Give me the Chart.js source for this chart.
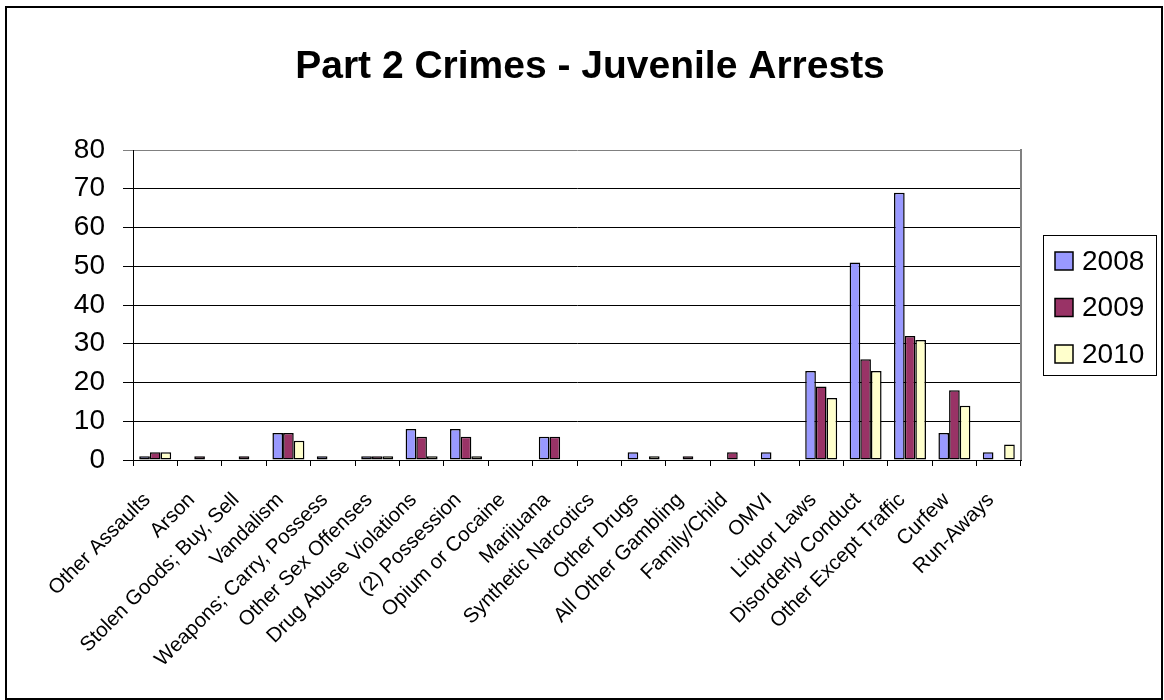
<!DOCTYPE html>
<html>
<head>
<meta charset="utf-8">
<title>Part 2 Crimes - Juvenile Arrests</title>
<script src="https://cdn.jsdelivr.net/npm/chart.js@4.4.1/dist/chart.umd.min.js"></script>
<style>
  body { margin: 0; background: #fff; }
</style>
</head>
<body>
<canvas id="chart" width="1164" height="700"></canvas>
<script>
// chart data
const categories = [
    "Other Assaults", "Arson", "Stolen Goods; Buy, Sell", "Vandalism",
    "Weapons; Carry, Possess", "Other Sex Offenses", "Drug Abuse Violations",
    "(2) Possession", "Opium or Cocaine", "Marijuana", "Synthetic Narcotics",
    "Other Drugs", "All Other Gambling", "Family/Child", "OMVI", "Liquor Laws",
    "Disorderly Conduct", "Other Except Traffic", "Curfew", "Run-Aways"
];
const years = ["2008", "2009", "2010"];
const arrests2008 = [1, 0, 0, 7, 1, 1, 8, 8, 0, 6, 0, 2, 0, 0, 2, 23, 51, 69, 7, 2];
const arrests2009 = [2, 1, 1, 7, 0, 1, 6, 6, 0, 6, 0, 0, 1, 2, 0, 19, 26, 32, 18, 0];
const arrests2010 = [2, 0, 0, 5, 0, 1, 1, 1, 0, 0, 0, 1, 0, 0, 0, 16, 23, 31, 14, 4];
const yMin = 0;
const yMax = 80;
const yStep = 10;

const colors = ["#9999FF", "#993366", "#FFFFCC"];
const FONT = "'Liberation Sans', Arial, sans-serif";

// outer frame + gray right edge of the plot
const framePlugin = {
    id: 'frame',
    beforeDraw(chart) {
        const ctx = chart.ctx;
        ctx.save();
        ctx.fillStyle = '#fff';
        ctx.fillRect(0, 0, chart.width, chart.height);
        ctx.strokeStyle = '#000';
        ctx.lineWidth = 2;
        ctx.strokeRect(6, 7, 1156, 692);
        ctx.restore();
    },
    afterDatasetsDraw(chart) {
        const a = chart.chartArea;
        const ctx = chart.ctx;
        ctx.save();
        ctx.strokeStyle = '#808080';
        ctx.lineWidth = 2;
        ctx.beginPath();
        ctx.moveTo(a.right, a.top - 1);
        ctx.lineTo(a.right, a.bottom);
        ctx.stroke();
        ctx.restore();
    }
};

// boxed legend on the right, like the spreadsheet one
const legendPlugin = {
    id: 'boxLegend',
    afterDraw(chart) {
        const ctx = chart.ctx;
        ctx.save();
        ctx.strokeStyle = '#000';
        ctx.lineWidth = 1;
        ctx.strokeRect(1043.5, 235.5, 113, 140);
        chart.data.datasets.forEach((ds, i) => {
            const y = 261 + i * 46.5;
            ctx.fillStyle = ds.backgroundColor;
            ctx.fillRect(1055, y - 9, 18, 18);
            ctx.strokeStyle = '#000';
            ctx.lineWidth = 1.5;
            ctx.strokeRect(1055, y - 9, 18, 18);
            ctx.fillStyle = '#000';
            ctx.font = '28px ' + FONT;
            ctx.textBaseline = 'middle';
            ctx.textAlign = 'left';
            ctx.fillText(ds.label, 1082, y + 1);
        });
        ctx.restore();
    }
};

function makeSet(label, data, color) {
    return {
        label: label,
        data: data,
        backgroundColor: color,
        borderColor: '#000',
        borderWidth: ctx => (ctx.raw === 0 ? 0 : 1.5),
        borderSkipped: false,
        categoryPercentage: 0.72,
        barPercentage: 1.0
    };
}

const ctx = document.getElementById('chart').getContext('2d');
const myChart = new Chart(ctx, {
    type: 'bar',
    data: {
        labels: categories,
        datasets: [
            makeSet(years[0], arrests2008, colors[0]),
            makeSet(years[1], arrests2009, colors[1]),
            makeSet(years[2], arrests2010, colors[2])
        ]
    },
    plugins: [framePlugin, legendPlugin],
    options: {
        responsive: false,
        animation: false,
        devicePixelRatio: 1,
        layout: {
            padding: { left: 16, right: 0, top: 0, bottom: 0 }
        },
        plugins: {
            legend: { display: false },
            tooltip: { enabled: false },
            title: {
                display: true,
                text: 'Part 2 Crimes - Juvenile Arrests',
                color: '#000',
                font: { family: FONT, size: 39, weight: 'bold', lineHeight: 1.2 },
                padding: { top: 44, bottom: 59.2 }
            }
        },
        scales: {
            x: {
                grid: {
                    display: true,
                    drawOnChartArea: false,
                    drawTicks: true,
                    tickLength: 6,
                    color: '#000',
                    lineWidth: 1
                },
                border: { color: '#000', width: 1 },
                ticks: {
                    autoSkip: false,
                    maxRotation: 45,
                    minRotation: 45,
                    padding: 22,
                    labelOffset: -8,
                    color: '#000',
                    font: { family: FONT, size: 20.5 }
                },
                afterFit(scale) {
                    scale.height = 240;
                }
            },
            y: {
                min: yMin,
                max: yMax,
                grid: {
                    color: c => (c.tick && c.tick.value === yMax ? '#808080' : '#000'),
                    lineWidth: 1,
                    tickLength: 10
                },
                border: { color: '#000', width: 1 },
                ticks: {
                    stepSize: yStep,
                    padding: 18,
                    color: '#000',
                    font: { family: FONT, size: 28 }
                },
                afterFit(scale) {
                    scale.width = 117;
                }
            },
            // empty axis on the right: keeps room for the legend box
            spacer: {
                type: 'linear',
                position: 'right',
                display: true,
                grid: { display: false },
                border: { display: false },
                ticks: { display: false },
                afterFit(scale) {
                    scale.width = 143;
                }
            }
        }
    }
});
</script>
</body>
</html>
